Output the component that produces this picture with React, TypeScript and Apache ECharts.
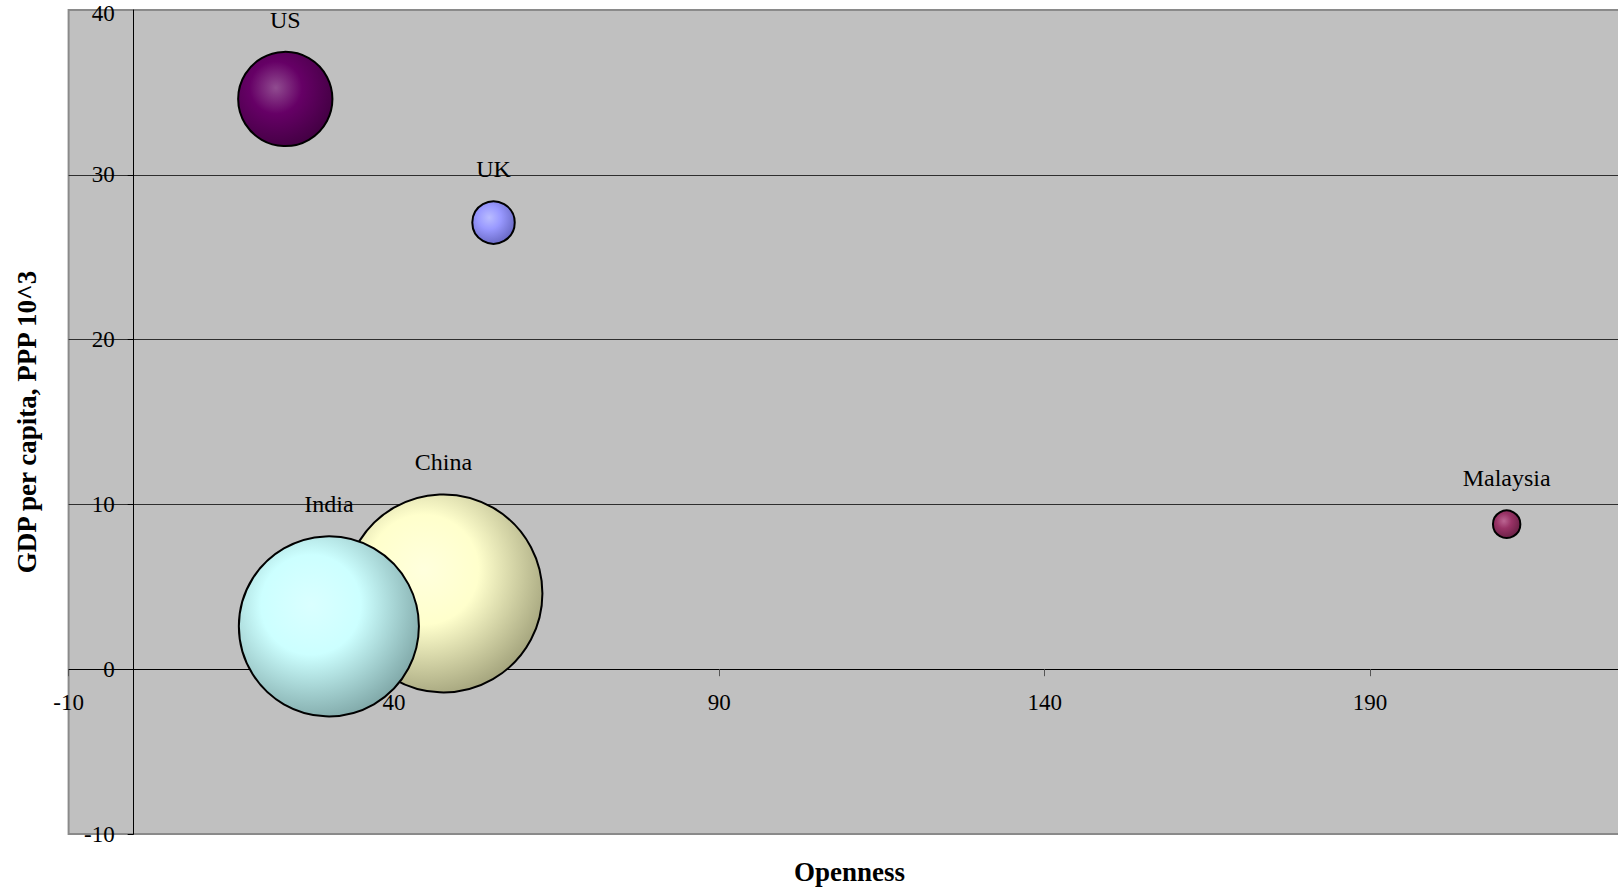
import React, { useEffect, useRef } from "react";
import * as echarts from "echarts";

// Country bubbles: trade openness vs GDP per capita, bubble area = population
const countries = ["UK", "Malaysia", "China", "India", "US"];
const openness = [55.3, 211.0, 47.6, 30.0, 23.3];
const gdpPerCapita = [27.1, 8.8, 4.6, 2.6, 34.6];
const populationMillions = [60, 25, 1306, 1080, 296];

// Axis ranges / tick steps
const xMin = -10;
const xMax = 230;
const xStep = 50;
const yMin = -10;
const yMax = 40;
const yStep = 10;

const xTitle = "Openness";
const yTitle = "GDP per capita, PPP 10^3";

// Sphere shading per country: [highlight, base, shade]
const shades: Record<string, string[]> = {
  UK: ["#b9bcff", "#9999ff", "#6767c2"],
  Malaysia: ["#bb6592", "#993366", "#681f44"],
  China: ["#ffffdd", "#ffffcc", "#a3a37c"],
  India: ["#daffff", "#ccffff", "#7fa7a7"],
  US: ["#904c90", "#660066", "#420042"],
};

const SERIF = '"Liberation Serif", "Times New Roman", serif';
const LARGEST_BUBBLE = 198;
const TICK_FONT = 23;
const Y_LABEL_MARGIN = 19;

// Plot box inside the chart canvas (px)
const CHART_W = 1640;
const CHART_H = 891;
const GRID_LEFT = 68.6;
const GRID_RIGHT = 9.7;
const GRID_TOP = 10;
const GRID_BOTTOM = 57;

export default function App() {
  const ref = useRef<HTMLDivElement>(null);

  useEffect(() => {
    if (!ref.current) return;
    const chart = echarts.init(ref.current, null, { renderer: "svg" });
    const maxPop = Math.max(...populationMillions);

    // The axes cross each other at zero: shift each axis (with its labels)
    // from the plot edge to the zero line of the other axis.
    const gridW = CHART_W - GRID_LEFT - GRID_RIGHT;
    const gridH = CHART_H - GRID_TOP - GRID_BOTTOM;
    const yAxisShift = ((0 - xMin) / (xMax - xMin)) * gridW;
    const xAxisShift = ((0 - yMin) / (yMax - yMin)) * gridH;

    const data = countries.map((name, i) => {
      const [hi, base, lo] = shades[name];
      return {
        name,
        value: [openness[i], gdpPerCapita[i], populationMillions[i]],
        itemStyle: {
          color: new echarts.graphic.RadialGradient(0.4, 0.38, 0.66, [
            { offset: 0, color: hi },
            { offset: 0.42, color: base },
            { offset: 1, color: lo },
          ]),
        },
      };
    });

    chart.setOption({
      animation: false,
      backgroundColor: "#ffffff",
      textStyle: { fontFamily: SERIF },
      grid: {
        left: GRID_LEFT,
        top: GRID_TOP,
        right: GRID_RIGHT,
        bottom: GRID_BOTTOM,
        show: true,
        backgroundColor: "#c0c0c0",
        borderColor: "#8a8a8a",
        borderWidth: 2,
        containLabel: false,
        outerBoundsMode: "none",
      },
      xAxis: {
        type: "value",
        min: xMin,
        max: xMax,
        interval: xStep,
        offset: -xAxisShift,
        name: xTitle,
        nameLocation: "middle",
        nameGap: 189,
        nameTextStyle: {
          fontFamily: SERIF,
          fontWeight: "bold",
          fontSize: 27,
          color: "#000",
        },
        axisLine: { onZero: false, lineStyle: { color: "#000", width: 1 } },
        axisTick: { show: true, length: 7, lineStyle: { color: "#555" } },
        axisLabel: {
          showMaxLabel: false,
          margin: 22,
          fontFamily: SERIF,
          fontSize: TICK_FONT,
          color: "#000",
        },
        splitLine: { show: false },
      },
      yAxis: {
        type: "value",
        min: yMin,
        max: yMax,
        interval: yStep,
        offset: -yAxisShift,
        name: yTitle,
        nameLocation: "middle",
        nameGap: 93,
        nameTextStyle: {
          fontFamily: SERIF,
          fontWeight: "bold",
          fontSize: 27,
          color: "#000",
        },
        axisLine: { onZero: false, lineStyle: { color: "#000", width: 1 } },
        axisTick: { show: true, length: 6, lineStyle: { color: "#000" } },
        axisLabel: {
          showMaxLabel: false,
          margin: Y_LABEL_MARGIN,
          fontFamily: SERIF,
          fontSize: TICK_FONT,
          color: "#000",
        },
        splitLine: {
          show: true,
          showMinLine: false,
          showMaxLine: false,
          lineStyle: { color: "#2e2e2e", width: 1 },
        },
      },
      series: [
        {
          type: "scatter",
          data,
          symbol: "circle",
          symbolSize: (val: number[]) =>
            LARGEST_BUBBLE * Math.sqrt(val[2] / maxPop),
          itemStyle: { borderColor: "#000", borderWidth: 2, opacity: 1 },
          label: {
            show: true,
            position: "top",
            distance: 19,
            formatter: "{b}",
            fontFamily: SERIF,
            fontSize: 24,
            color: "#000",
          },
          emphasis: { disabled: true },
        },
      ],
    });

    // Top y tick label sits on the upper canvas edge; place it just inside.
    const [axisX, topY] = chart.convertToPixel({ gridIndex: 0 }, [0, yMax]);
    chart.setOption({
      graphic: [
        {
          type: "text",
          x: axisX - Y_LABEL_MARGIN,
          y: Math.max(topY, 13.5),
          style: {
            text: String(yMax),
            align: "right",
            verticalAlign: "middle",
            fontFamily: SERIF,
            fontSize: TICK_FONT,
            fill: "#000",
          },
          silent: true,
        },
      ],
    });

    return () => chart.dispose();
  }, []);

  return (
    <div
      style={{
        position: "fixed",
        left: 0,
        top: 0,
        width: 1618,
        height: 891,
        overflow: "hidden",
        background: "#fff",
      }}
    >
      <div ref={ref} style={{ width: CHART_W, height: CHART_H }} />
    </div>
  );
}
